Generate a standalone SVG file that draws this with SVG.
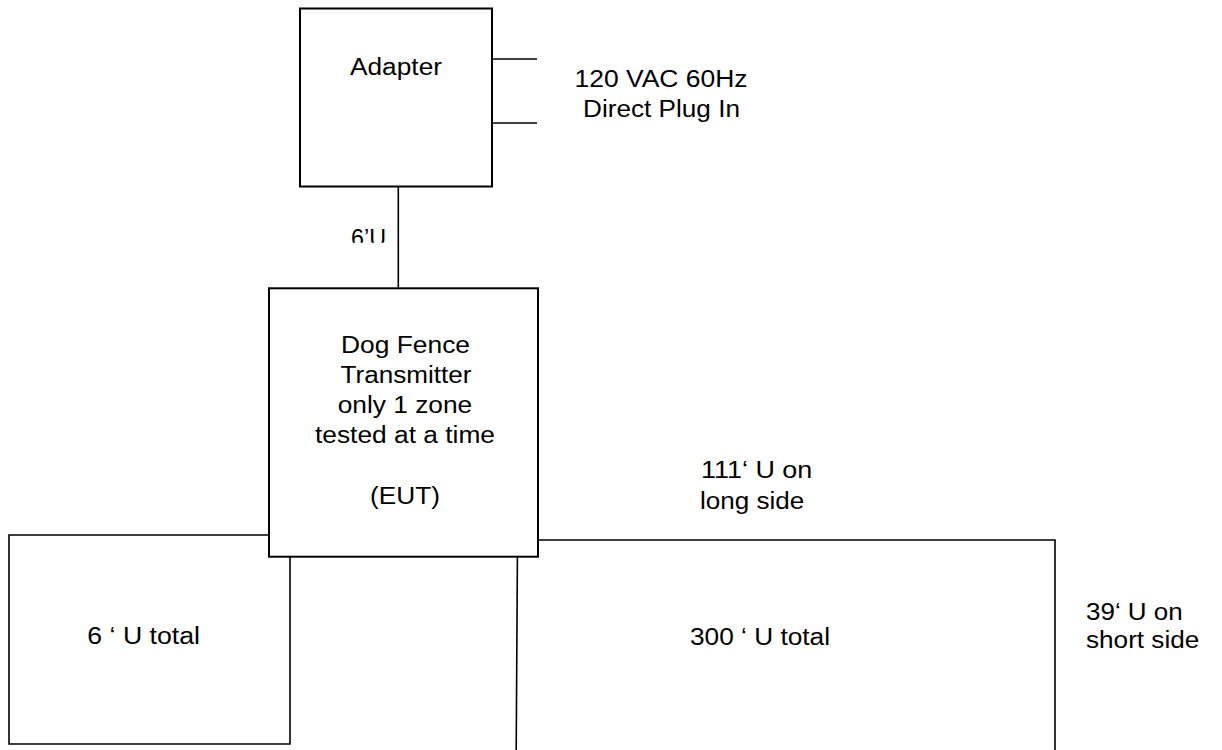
<svg xmlns="http://www.w3.org/2000/svg" width="1222" height="750" viewBox="0 0 1222 750">
  <style>
    .box { fill: #ffffff; stroke: #000000; stroke-width: 2; }
    .wire { fill: none; stroke: #000000; stroke-width: 1.6; }
    .lbl { font-family: "Liberation Sans", Arial, sans-serif; font-size: 23.3px; fill: #000000; }
    .mid { text-anchor: middle; }
  </style>
  <defs>
    <clipPath id="clip6u">
      <rect x="340" y="220" width="55" height="22.7"/>
    </clipPath>
  </defs>
  <rect width="1222" height="750" fill="#ffffff"/>

  <g id="connectors">
    <line class="wire" x1="492" y1="59" x2="537" y2="59"/>
    <line class="wire" x1="492" y1="123" x2="537" y2="123"/>
    <line class="wire" x1="398.3" y1="187" x2="398.3" y2="288"/>
    <polyline class="wire" points="269,535 9,535 9,744 290,744 290,557"/>
    <polyline class="wire" points="538,540 1055,540 1055,750"/>
    <line class="wire" x1="517.4" y1="557" x2="516.2" y2="750"/>
  </g>

  <g id="adapter">
    <rect class="box" x="300" y="8.5" width="192" height="178"/>
    <text class="lbl mid" x="396" y="75" textLength="92" lengthAdjust="spacingAndGlyphs">Adapter</text>
  </g>

  <g id="power-label">
    <text class="lbl mid" x="661" y="87" textLength="173" lengthAdjust="spacingAndGlyphs">120 VAC 60Hz</text>
    <text class="lbl mid" x="661.5" y="117" textLength="157" lengthAdjust="spacingAndGlyphs">Direct Plug In</text>
  </g>

  <g id="cable-label">
    <text class="lbl" x="351" y="246" textLength="35" lengthAdjust="spacingAndGlyphs" clip-path="url(#clip6u)">6’U</text>
  </g>

  <g id="eut">
    <rect class="box" x="269" y="288.3" width="269" height="268.4"/>
    <text class="lbl mid" x="405.5" y="353.3" textLength="129" lengthAdjust="spacingAndGlyphs">Dog Fence</text>
    <text class="lbl mid" x="406" y="383.3" textLength="131" lengthAdjust="spacingAndGlyphs">Transmitter</text>
    <text class="lbl mid" x="405" y="413.3" textLength="134.5" lengthAdjust="spacingAndGlyphs">only 1 zone</text>
    <text class="lbl mid" x="405" y="443.3" textLength="180" lengthAdjust="spacingAndGlyphs">tested at a time</text>
    <text class="lbl mid" x="405" y="504" textLength="70" lengthAdjust="spacingAndGlyphs">(EUT)</text>
  </g>

  <g id="small-loop">
    <text class="lbl" x="87.3" y="644" textLength="112.7" lengthAdjust="spacingAndGlyphs">6 ‘ U total</text>
  </g>

  <g id="large-loop">
    <text class="lbl" x="690" y="645" textLength="140" lengthAdjust="spacingAndGlyphs">300 ‘ U total</text>
  </g>

  <g id="long-side-label">
    <text class="lbl" x="701" y="478.3" textLength="111.3" lengthAdjust="spacingAndGlyphs">111‘ U on</text>
    <text class="lbl" x="700" y="509.3" textLength="104.3" lengthAdjust="spacingAndGlyphs">long side</text>
  </g>

  <g id="short-side-label">
    <text class="lbl" x="1086" y="620" textLength="96.7" lengthAdjust="spacingAndGlyphs">39‘ U on</text>
    <text class="lbl" x="1086" y="648.3" textLength="113.3" lengthAdjust="spacingAndGlyphs">short side</text>
  </g>
</svg>
